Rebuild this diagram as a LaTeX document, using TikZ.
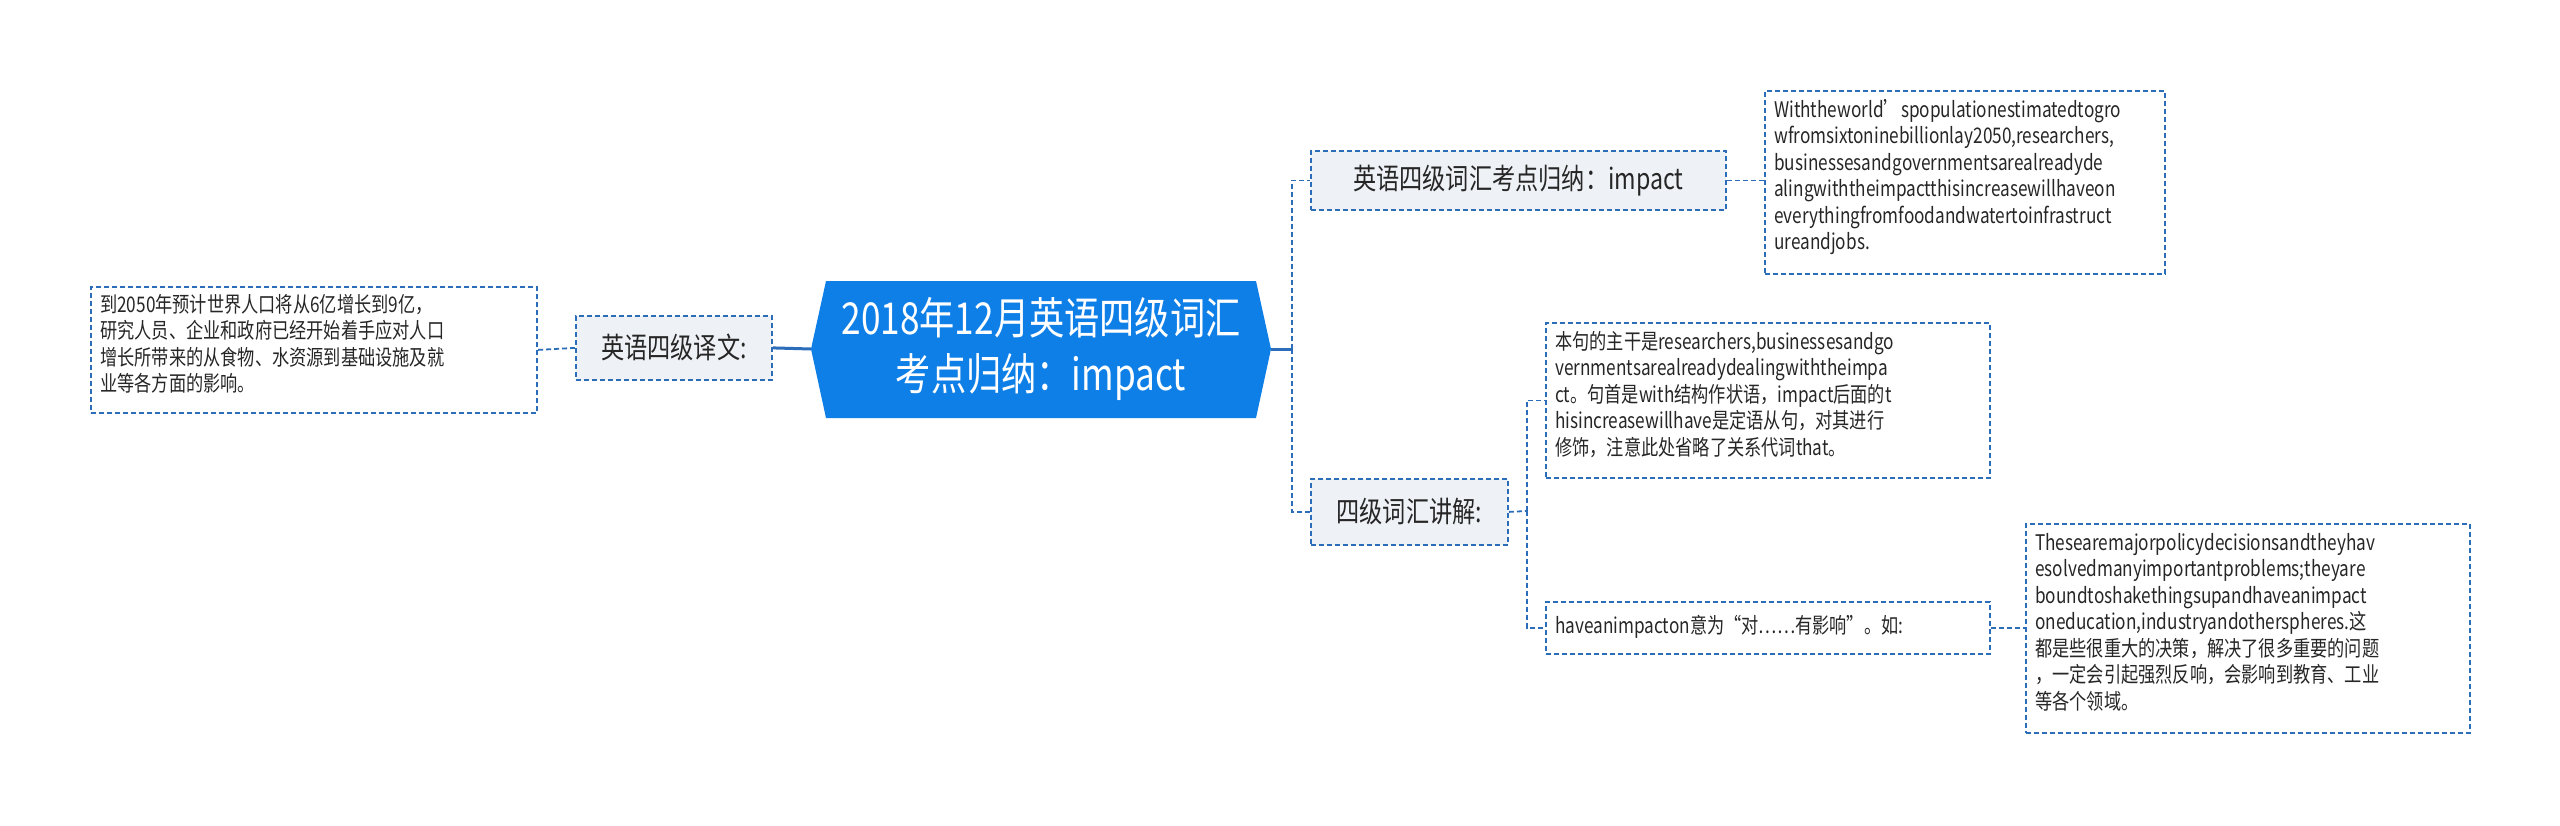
\documentclass[tikz,border=0pt]{standalone}
\usepackage{fontspec}
\setmainfont{Noto Sans CJK SC}[FakeStretch=0.8]
\begin{document}
\begin{tikzpicture}[x=1pt,y=-1pt,
  bd/.style={draw=c2,dashed,dash pattern=on 5pt off 3pt,line width=1.8pt},
  conn/.style={draw=c2,dashed,dash pattern=on 5pt off 3pt,line width=1.8pt},
  box/.style={bd,anchor=north west,inner sep=0pt},
  txt/.style={anchor=north west,font=\fontsize{21.5}{26.5}\selectfont,align=left,inner sep=0pt,text=black!85},
  lab/.style={bd,fill=c3,anchor=north west,inner sep=0pt,font=\fontsize{29}{34}\selectfont,text=black!85}]
\definecolor{c1}{HTML}{0F7FE8}
\definecolor{c2}{HTML}{2B6DB8}
\definecolor{c3}{HTML}{EEF1F5}
\useasboundingbox (0,0) rectangle (2560,825);
% central
\fill[c1] (811,349) -- (826,281) -- (1256,281) -- (1271,349) -- (1256,418) -- (826,418) -- cycle;
\node[font=\fontsize{44}{56}\selectfont,text=white,align=center] (c) at (1041,349) {2018年12月英语四级词汇\\考点归纳：impact};
\coordinate (cl) at (811,349); \coordinate (cr) at (1271,349);
% left
\node[lab,minimum width=196pt,minimum height=64pt] (l1) at (575,315) {英语四级译文:};
\node[box,minimum width=446pt,minimum height=126pt] (l2) at (90,286) {};
\node[txt] at (100,294) {到2050年预计世界人口将从6亿增长到9亿，\\研究人员、企业和政府已经开始着手应对人口\\增长所带来的从食物、水资源到基础设施及就\\业等各方面的影响。};
\draw[c2,line width=3pt] (cl) -- (l1.east);
\draw[conn] (l1.west) -- (l2.east);
% right top
\node[lab,minimum width=415pt,minimum height=59pt] (r1) at (1310,150) {英语四级词汇考点归纳：impact};
\node[box,minimum width=400pt,minimum height=183pt] (r1t) at (1764,90) {};
\node[txt] at (1774,99) {Withtheworld{\char39}spopulationestimatedtogro\\wfromsixtoninebillionlay2050,researchers,\\businessesandgovernmentsarealreadyde\\alingwiththeimpactthisincreasewillhaveon\\everythingfromfoodandwatertoinfrastruct\\ureandjobs.};
\node[lab,minimum width=197pt,minimum height=66pt] (r2) at (1310,478) {四级词汇讲解:};
\node[box,minimum width=444pt,minimum height=155pt] (r2a) at (1545,322) {};
\node[txt] at (1555,331) {本句的主干是researchers,businessesandgo\\vernmentsarealreadydealingwiththeimpa\\ct。句首是with结构作状语，impact后面的t\\hisincreasewillhave是定语从句，对其进行\\修饰，注意此处省略了关系代词that。};
\node[box,minimum width=444pt,minimum height=52pt] (r2b) at (1545,601) {};
\node[txt,anchor=west] at (1555,627) {haveanimpacton意为“对……有影响”。如:};
\node[box,minimum width=444pt,minimum height=209pt] (r2c) at (2025,523) {};
\node[txt] at (2035,533) {Thesearemajorpolicydecisionsandtheyhav\\esolvedmanyimportantproblems;theyare\\boundtoshakethingsupandhaveanimpact\\oneducation,industryandotherspheres.这\\都是些很重大的决策，解决了很多重要的问题\\，一定会引起强烈反响，会影响到教育、工业\\等各个领域。};
% connectors
\coordinate (t1) at (1292,349);
\draw[c2,line width=3pt] (cr) -- (t1);
\draw[conn] (t1) |- (r1.west);
\draw[conn] (t1) |- (r2.west);
\draw[conn] (r1.east) -- (r1t.west |- r1.east);
\coordinate (t2) at (1527,511);
\draw[conn] (r2.east) -- (t2);
\draw[conn] (t2) |- (r2a.west);
\draw[conn] (t2) |- (r2b.west);
\draw[conn] (r2b.east) -- (r2c.west |- r2b.east);
\end{tikzpicture}
\end{document}
